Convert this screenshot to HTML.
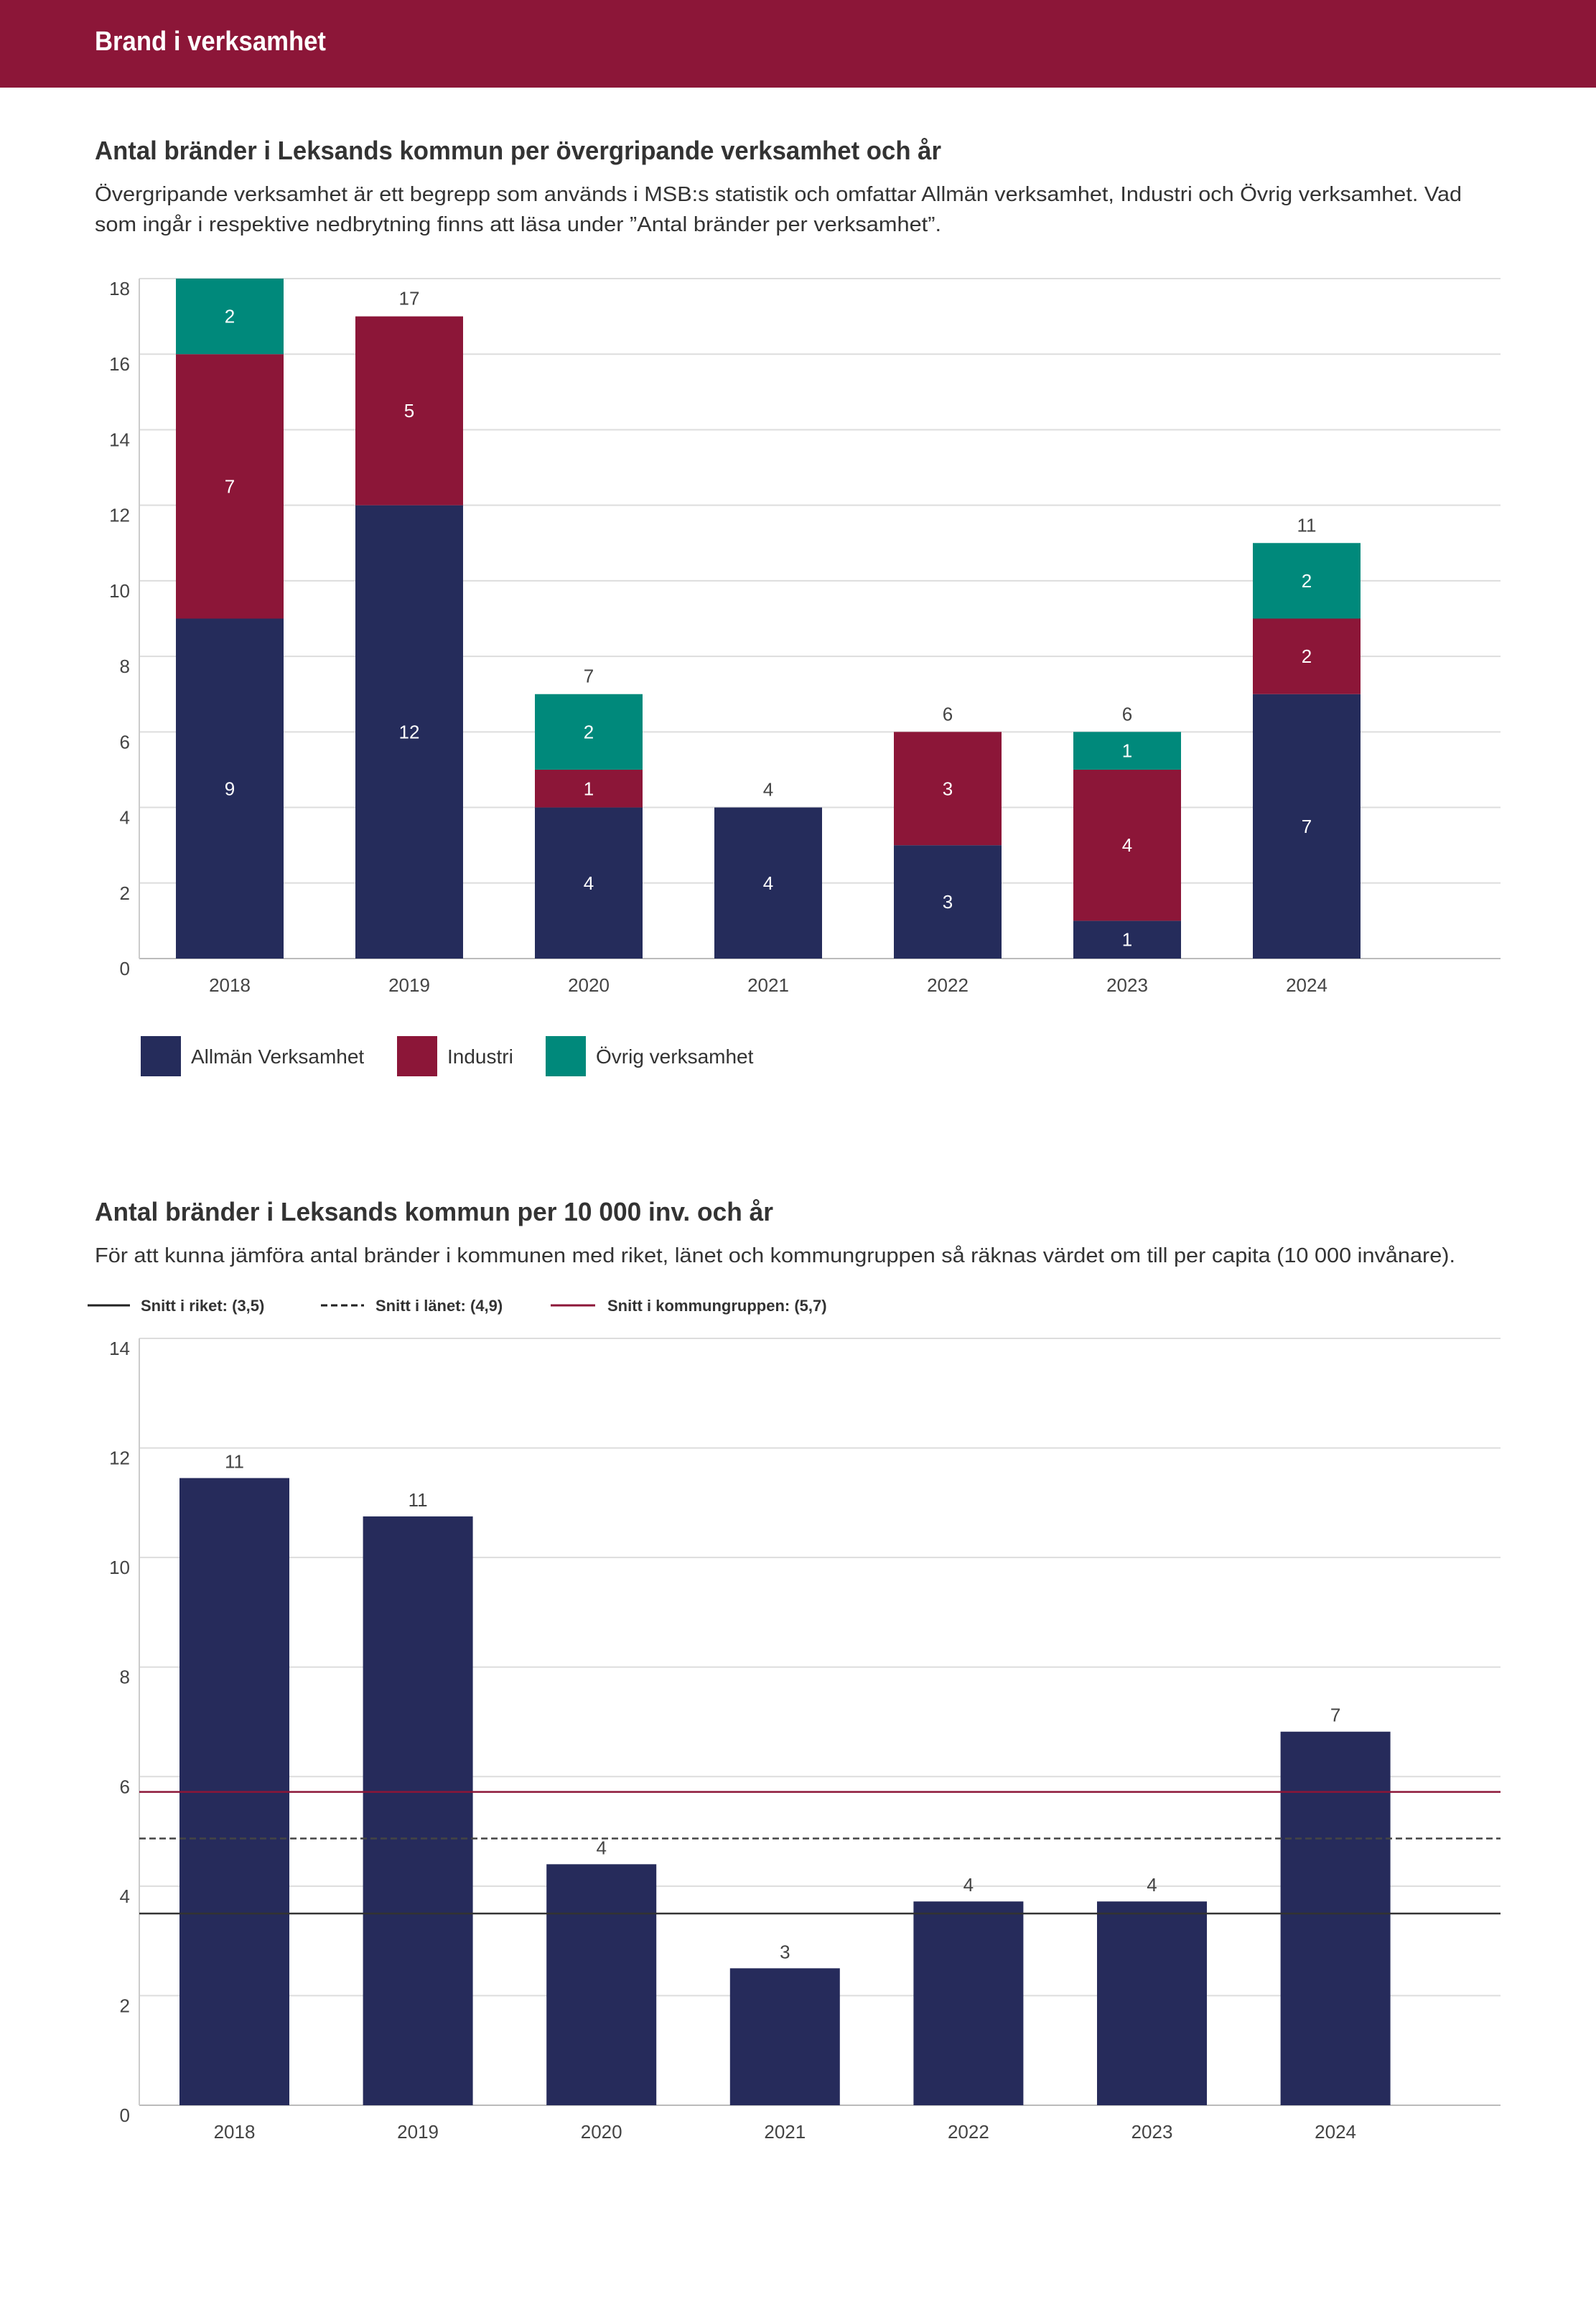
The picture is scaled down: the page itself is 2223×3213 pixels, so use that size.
<!DOCTYPE html>
<html><head><meta charset="utf-8"><style>
html,body{margin:0;padding:0;background:#fff;}
svg{display:block;font-family:"Liberation Sans",sans-serif;}
</style></head><body>
<svg id="root" width="2223" height="3213" viewBox="0 0 2223 3213" xmlns="http://www.w3.org/2000/svg">
<rect x="0" y="0" width="2223" height="122" fill="#8c1638"/>
<text x="132" y="70" font-size="38" font-weight="bold" fill="#fff" textLength="322" lengthAdjust="spacingAndGlyphs">Brand i verksamhet</text>
<text x="132" y="222" font-size="36" font-weight="bold" fill="#333" textLength="1179" lengthAdjust="spacingAndGlyphs">Antal bränder i Leksands kommun per övergripande verksamhet och år</text>
<text x="132" y="280" font-size="29" fill="#333" textLength="1904" lengthAdjust="spacingAndGlyphs">Övergripande verksamhet är ett begrepp som används i MSB:s statistik och omfattar Allmän verksamhet, Industri och Övrig verksamhet. Vad</text>
<text x="132" y="322" font-size="29" fill="#333" textLength="1179" lengthAdjust="spacingAndGlyphs">som ingår i respektive nedbrytning finns att läsa under ”Antal bränder per verksamhet”.</text>
<g id="chart1"></g>
<g id="legend1">
<rect x="196" y="1443" width="56" height="56" fill="#252c5b"/>
<text x="266" y="1481" font-size="28" fill="#333">Allmän Verksamhet</text>
<rect x="553" y="1443" width="56" height="56" fill="#8c1638"/>
<text x="623" y="1481" font-size="28" fill="#333">Industri</text>
<rect x="760" y="1443" width="56" height="56" fill="#00897b"/>
<text x="830" y="1481" font-size="28" fill="#333">Övrig verksamhet</text>
</g>
<text x="132" y="1700" font-size="36" font-weight="bold" fill="#333" textLength="945" lengthAdjust="spacingAndGlyphs">Antal bränder i Leksands kommun per 10 000 inv. och år</text>
<text x="132" y="1758" font-size="29" fill="#333" textLength="1895" lengthAdjust="spacingAndGlyphs">För att kunna jämföra antal bränder i kommunen med riket, länet och kommungruppen så räknas värdet om till per capita (10 000 invånare).</text>
<g id="legend2">
<line x1="122" y1="1818" x2="181" y2="1818" stroke="#222" stroke-width="3"/>
<text x="196" y="1826" font-size="22" font-weight="bold" fill="#333">Snitt i riket: (3,5)</text>
<line x1="447" y1="1818" x2="507" y2="1818" stroke="#222" stroke-width="3" stroke-dasharray="9,5"/>
<text x="523" y="1826" font-size="22" font-weight="bold" fill="#333">Snitt i länet: (4,9)</text>
<line x1="767" y1="1818" x2="829" y2="1818" stroke="#8c1638" stroke-width="3"/>
<text x="846" y="1826" font-size="22" font-weight="bold" fill="#333">Snitt i kommungruppen: (5,7)</text>
</g>
<g id="chart2"></g>
</svg>
<script>
const years = ["2018","2019","2020","2021","2022","2023","2024"];
const allman = [9,12,4,4,3,1,7];
const industri = [7,5,1,0,3,4,2];
const ovrig = [2,0,2,0,0,1,2];
const ticks1 = [0,2,4,6,8,10,12,14,16,18];
const perCapita = [11.45,10.75,4.4,2.5,3.72,3.72,6.82];
const ticks2 = [0,2,4,6,8,10,12,14];
const avgRiket = 3.5;
const avgLanet = 4.87;
const avgKommungrupp = 5.72;

const NS = "http://www.w3.org/2000/svg";
function mk(parent, tag, attrs, text){
  const e = document.createElementNS(NS, tag);
  for (const k in attrs) e.setAttribute(k, attrs[k]);
  if (text !== undefined) e.textContent = text;
  parent.appendChild(e);
  return e;
}
const L = 194, R = 2090;

// Chart 1
(function(){
  const g = document.getElementById('chart1');
  const y0 = 1335, yTop = 388, max = 18;
  const y = v => y0 - (v / max) * (y0 - yTop);
  const xc = i => 320 + i * 250;
  const bw = 150;
  ticks1.forEach(t => {
    const ln = mk(g, 'line', {x1: L, x2: R, y1: y(t), y2: y(t), stroke: t === 0 ? '#bbb' : '#ddd', 'stroke-width': 2});
    
    
    const tx = mk(g, 'text', {x: 181, y: y(t) + 23, 'font-size': 26, fill: '#444', 'text-anchor': 'end'}, t);
    
    
  });
  const ax = mk(g, 'line', {x1: L, x2: L, y1: yTop, y2: y0, stroke: '#ccc', 'stroke-width': 2});
  
  
  const series = [[allman, '#252c5b', 'allman'], [industri, '#8c1638', 'industri'], [ovrig, '#00897b', 'ovrig']];
  years.forEach((yr, i) => {
    let base = 0;
    series.forEach(([arr, col, nm]) => {
      const v = arr[i];
      if (v > 0) {
        const r = mk(g, 'rect', {x: xc(i) - bw / 2, y: y(base + v), width: bw, height: y(base) - y(base + v), fill: col});
        
        
        const t = mk(g, 'text', {x: xc(i), y: (y(base) + y(base + v)) / 2 + 9, 'font-size': 26, fill: '#fff', 'text-anchor': 'middle'}, v);
        
        
      }
      base += v;
    });
    if (base < max) {
      const tt = mk(g, 'text', {x: xc(i), y: y(base) - 16, 'font-size': 26, fill: '#444', 'text-anchor': 'middle'}, base);
      
      
    }
    const xl = mk(g, 'text', {x: xc(i), y: 1381, 'font-size': 26, fill: '#444', 'text-anchor': 'middle'}, yr);
    
    
  });
})();

// Chart 2
(function(){
  const g = document.getElementById('chart2');
  const y0 = 2932, yTop = 1864, max = 14;
  const y = v => y0 - (v / max) * (y0 - yTop);
  const xc = i => 326.5 + i * 255.6;
  const bw = 153;
  ticks2.forEach(t => {
    const ln = mk(g, 'line', {x1: L, x2: R, y1: y(t), y2: y(t), stroke: t === 0 ? '#bbb' : '#ddd', 'stroke-width': 2});
    
    
    const tx = mk(g, 'text', {x: 181, y: y(t) + 23, 'font-size': 26, fill: '#444', 'text-anchor': 'end'}, t);
    
    
  });
  const ax = mk(g, 'line', {x1: L, x2: L, y1: yTop, y2: y0, stroke: '#ccc', 'stroke-width': 2});
  
  
  years.forEach((yr, i) => {
    const v = perCapita[i];
    const r = mk(g, 'rect', {x: xc(i) - bw / 2, y: y(v), width: bw, height: y0 - y(v), fill: '#262b5b'});
    
    
    const t = mk(g, 'text', {x: xc(i), y: y(v) - 14, 'font-size': 26, fill: '#444', 'text-anchor': 'middle'}, Math.round(v));
    
    
    const xl = mk(g, 'text', {x: xc(i), y: 2978, 'font-size': 26, fill: '#444', 'text-anchor': 'middle'}, yr);
    
    
  });
  const l1 = mk(g, 'line', {x1: L, x2: R, y1: y(avgKommungrupp), y2: y(avgKommungrupp), stroke: '#8c1638', 'stroke-width': 2.5});
  
  
  const l2 = mk(g, 'line', {x1: L, x2: R, y1: y(avgLanet), y2: y(avgLanet), stroke: '#444', 'stroke-width': 2.5, 'stroke-dasharray': '9,5'});
  
  
  const l3 = mk(g, 'line', {x1: L, x2: R, y1: y(avgRiket), y2: y(avgRiket), stroke: '#333', 'stroke-width': 2.5});
  
  
})();
</script>
</body></html>
